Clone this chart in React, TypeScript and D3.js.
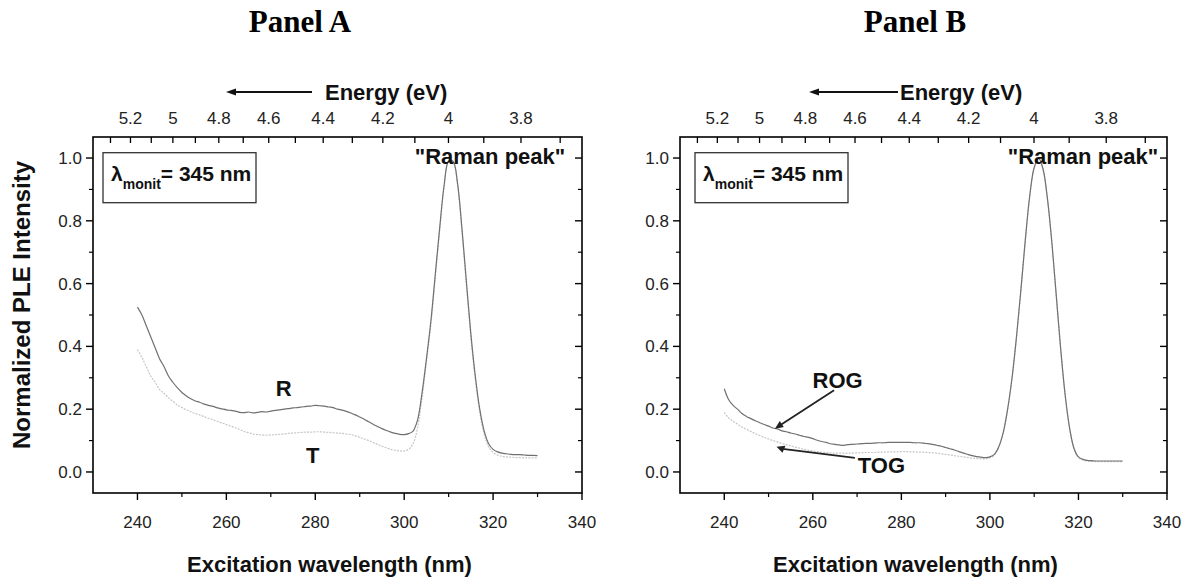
import React from 'react';
import * as d3 from 'd3';

// ---------- Data ----------
const wavelength = [
  240, 241, 242, 243, 244, 245, 246, 247, 248, 249, 250, 251, 252, 253, 254, 255, 256, 257, 258, 259,
  260, 261, 262, 263, 264, 265, 266, 267, 268, 269, 270, 271, 272, 273, 274, 275, 276, 277, 278, 279,
  280, 281, 282, 283, 284, 285, 286, 287, 288, 289, 290, 291, 292, 293, 294, 295, 296, 297, 298, 299,
  300, 301, 302, 303, 304, 305, 306, 307, 308, 309, 310, 311, 312, 313, 314, 315, 316, 317, 318, 319,
  320, 321, 322, 323, 324, 325, 326, 327, 328, 329, 330,
];

const seriesR = [
  0.525, 0.5, 0.465, 0.43, 0.395, 0.36, 0.335, 0.305, 0.285, 0.268, 0.253, 0.242, 0.233, 0.226, 0.222, 0.216, 0.212, 0.209, 0.204, 0.201,
  0.198, 0.196, 0.194, 0.19, 0.189, 0.191, 0.188, 0.19, 0.192, 0.191, 0.194, 0.196, 0.198, 0.2, 0.202, 0.204, 0.205, 0.207, 0.209, 0.21,
  0.212, 0.211, 0.21, 0.207, 0.205, 0.2, 0.197, 0.193, 0.188, 0.182, 0.175, 0.168, 0.16, 0.152, 0.145, 0.138, 0.132, 0.127, 0.123, 0.12,
  0.119, 0.122, 0.13, 0.165, 0.25, 0.36, 0.48, 0.63, 0.78, 0.915, 0.99, 0.99, 0.92, 0.775, 0.605, 0.44, 0.305, 0.2, 0.13, 0.09,
  0.072, 0.064, 0.06, 0.058, 0.056, 0.055, 0.055, 0.054, 0.053, 0.053, 0.052,
];

const seriesT = [
  0.39, 0.365, 0.335, 0.305, 0.285, 0.262, 0.25, 0.236, 0.225, 0.213, 0.205, 0.198, 0.192, 0.186, 0.182, 0.176, 0.171, 0.166, 0.161, 0.156,
  0.151, 0.146, 0.141, 0.135, 0.129, 0.125, 0.121, 0.119, 0.118, 0.117, 0.118, 0.119, 0.12, 0.121, 0.123, 0.124, 0.125, 0.126, 0.127, 0.127,
  0.128, 0.128, 0.127, 0.126, 0.125, 0.124, 0.123, 0.121, 0.119, 0.115, 0.11, 0.105, 0.1, 0.094, 0.088, 0.082, 0.077, 0.072, 0.069, 0.067,
  0.067, 0.072, 0.09, 0.14, 0.235, 0.35, 0.47, 0.62, 0.77, 0.91, 0.99, 0.985, 0.915, 0.765, 0.595, 0.43, 0.295, 0.19, 0.12, 0.08,
  0.062, 0.054, 0.05, 0.048, 0.047, 0.046, 0.046, 0.045, 0.045, 0.045, 0.045,
];

const seriesROG = [
  0.265, 0.23, 0.212, 0.2, 0.186, 0.177, 0.17, 0.163, 0.157, 0.151, 0.146, 0.14, 0.137, 0.131, 0.128, 0.124, 0.121, 0.117, 0.113, 0.11,
  0.106, 0.101, 0.097, 0.094, 0.09, 0.088, 0.086, 0.085, 0.087, 0.088, 0.089, 0.09, 0.091, 0.091, 0.092, 0.093, 0.093, 0.094, 0.094, 0.094,
  0.094, 0.094, 0.094, 0.093, 0.093, 0.092, 0.09, 0.088, 0.085, 0.082, 0.078, 0.074, 0.07, 0.065, 0.06, 0.056, 0.052, 0.049, 0.047, 0.046,
  0.048, 0.056, 0.08, 0.125, 0.2, 0.3, 0.43, 0.58, 0.74, 0.88, 0.97, 1.0, 0.965, 0.87, 0.73, 0.56, 0.39, 0.245, 0.14, 0.075,
  0.048, 0.04, 0.037, 0.036, 0.035, 0.035, 0.035, 0.035, 0.035, 0.035, 0.035,
];

const seriesTOG = [
  0.19, 0.172, 0.162, 0.152, 0.143, 0.136, 0.129, 0.122, 0.116, 0.11, 0.105, 0.1, 0.096, 0.091, 0.087, 0.083, 0.079, 0.076, 0.072, 0.069,
  0.067, 0.065, 0.063, 0.062, 0.061, 0.06, 0.06, 0.06, 0.06, 0.06, 0.061, 0.061, 0.062, 0.062, 0.062, 0.063, 0.063, 0.064, 0.064, 0.064,
  0.065, 0.065, 0.064, 0.064, 0.063, 0.063, 0.062, 0.061, 0.06, 0.058, 0.056, 0.054, 0.052, 0.05, 0.048, 0.046, 0.044, 0.043, 0.042, 0.042,
  0.045, 0.054, 0.078, 0.122, 0.198, 0.298, 0.428, 0.578, 0.738, 0.878, 0.968, 0.998, 0.963, 0.868, 0.728, 0.558, 0.388, 0.243, 0.138, 0.073,
  0.046, 0.038, 0.035, 0.034, 0.033, 0.033, 0.033, 0.033, 0.033, 0.033, 0.033,
];

const xTicks = [240, 260, 280, 300, 320, 340];
const xMinorTicks = [250, 270, 290, 310, 330];
const yTicks = [0.0, 0.2, 0.4, 0.6, 0.8, 1.0];
const yMinorTicks = [0.1, 0.3, 0.5, 0.7, 0.9];
const energyLabels = [5.2, 5.0, 4.8, 4.6, 4.4, 4.2, 4.0, 3.8];
const energyTicks = [5.3, 5.2, 5.1, 5.0, 4.9, 4.8, 4.7, 4.6, 4.5, 4.4, 4.3, 4.2, 4.1, 4.0, 3.9, 3.8, 3.7];

const HC = 1239.84;
const FONT = 'Liberation Sans, Arial, Helvetica, sans-serif';

type PanelCfg = {
  title: string;
  titleX: number;
  left: number;
  right: number;
  top: number;
  bottom: number;
  dark: number[];
  light: number[];
  withYLabel: boolean;
  energyArrowFrom: number;
  energyArrowTo: number;
  energyTextX: number;
  boxX: number;
  boxW: number;
  ramanX: number;
  panelB: boolean;
};

function Panel({ cfg }: { cfg: PanelCfg }) {
  const x = d3.scaleLinear().domain([230, 340]).range([cfg.left, cfg.right]);
  const y = d3.scaleLinear().domain([-0.067, 1.067]).range([cfg.bottom, cfg.top]);
  const line = d3
    .line<number>()
    .x((_, i) => x(wavelength[i]))
    .y((d) => y(d))
    .curve(d3.curveCatmullRom);
  const axisW = 1.6;
  const tk = 7;
  const tkm = 4;
  const midX = (cfg.left + cfg.right) / 2;

  return (
    <g>
      <text x={cfg.titleX} y={32} textAnchor="middle" fontFamily="Liberation Serif, Times New Roman, serif" fontWeight="bold" fontSize={31}>
        {cfg.title}
      </text>

      {/* curves */}
      <path d={line(cfg.light) || ''} fill="none" stroke="#c6c6c6" strokeWidth={1.2} strokeDasharray="2 1.2" />
      <path d={line(cfg.dark) || ''} fill="none" stroke="#707070" strokeWidth={1.2} />

      {/* frame */}
      <rect x={cfg.left} y={cfg.top} width={cfg.right - cfg.left} height={cfg.bottom - cfg.top} fill="none" stroke="#000" strokeWidth={axisW} />

      {/* bottom axis */}
      {xTicks.map((t) => (
        <g key={'xb' + t}>
          <line x1={x(t)} x2={x(t)} y1={cfg.bottom} y2={cfg.bottom + tk} stroke="#000" strokeWidth={1.4} />
          <text x={x(t)} y={cfg.bottom + 35} textAnchor="middle" fontFamily={FONT} fontSize={17} fill="#222">
            {t}
          </text>
        </g>
      ))}
      {xMinorTicks.map((t) => (
        <line key={'xm' + t} x1={x(t)} x2={x(t)} y1={cfg.bottom} y2={cfg.bottom + tkm} stroke="#000" strokeWidth={1.2} />
      ))}
      <text x={midX - 8} y={cfg.bottom + 79} textAnchor="middle" fontFamily={FONT} fontWeight="bold" fontSize={22} fill="#111">
        Excitation wavelength (nm)
      </text>

      {/* left axis */}
      {yTicks.map((t) => (
        <g key={'yl' + t}>
          <line x1={cfg.left - tk} x2={cfg.left} y1={y(t)} y2={y(t)} stroke="#000" strokeWidth={1.4} />
          <text x={cfg.left - 11} y={y(t) + 6} textAnchor="end" fontFamily={FONT} fontSize={17} fill="#222">
            {t.toFixed(1)}
          </text>
          <line x1={cfg.right - tk} x2={cfg.right} y1={y(t)} y2={y(t)} stroke="#000" strokeWidth={1.4} />
        </g>
      ))}
      {yMinorTicks.map((t) => (
        <g key={'ym' + t}>
          <line x1={cfg.left - tkm} x2={cfg.left} y1={y(t)} y2={y(t)} stroke="#000" strokeWidth={1.2} />
          <line x1={cfg.right - tkm} x2={cfg.right} y1={y(t)} y2={y(t)} stroke="#000" strokeWidth={1.2} />
        </g>
      ))}
      {cfg.withYLabel && (
        <text
          transform={`translate(${cfg.left - 63},${(cfg.top + cfg.bottom) / 2 - 10}) rotate(-90)`}
          textAnchor="middle"
          fontFamily={FONT}
          fontWeight="bold"
          fontSize={24}
          fill="#111"
        >
          Normalized PLE Intensity
        </text>
      )}

      {/* top energy axis */}
      {energyTicks.map((e) => (
        <line key={'et' + e} x1={x(HC / e)} x2={x(HC / e)} y1={cfg.top} y2={cfg.top + 6} stroke="#000" strokeWidth={1.3} />
      ))}
      {energyLabels.map((e) => (
        <text key={'el' + e} x={x(HC / e)} y={cfg.top - 13} textAnchor="middle" fontFamily={FONT} fontSize={17} fill="#222">
          {String(e)}
        </text>
      ))}
      <line x1={cfg.energyArrowFrom} x2={cfg.energyArrowTo + 8} y1={92} y2={92} stroke="#111" strokeWidth={2} />
      <path d={`M${cfg.energyArrowTo},92 L${cfg.energyArrowTo + 10},88.5 L${cfg.energyArrowTo + 10},95.5 Z`} fill="#111" />
      <text x={cfg.energyTextX} y={100} fontFamily={FONT} fontWeight="bold" fontSize={22} fill="#111">
        Energy (eV)
      </text>

      {/* monitor box */}
      <rect x={cfg.boxX} y={y(1.017)} width={cfg.boxW} height={50} fill="#fff" stroke="#333" strokeWidth={1.3} />
      <text x={cfg.boxX + 8} y={y(1.017) + 28} fontFamily={FONT} fontWeight="bold" fontSize={21} fill="#111">
        λ
        <tspan fontSize={14} dy={8}>monit</tspan>
        <tspan dy={-8}>= 345 nm</tspan>
      </text>

      {/* Raman label */}
      <text x={cfg.ramanX} y={y(1.0) + 6} textAnchor="middle" fontFamily={FONT} fontWeight="bold" fontSize={22} fill="#111">
        "Raman peak"
      </text>

      {/* series labels */}
      {!cfg.panelB && (
        <g fontFamily={FONT} fontWeight="bold" fontSize={22} fill="#111">
          <text x={x(272.9)} y={y(0.267) + 8} textAnchor="middle">R</text>
          <text x={x(279.4)} y={y(0.054) + 8} textAnchor="middle">T</text>
        </g>
      )}
      {cfg.panelB && (
        <g>
          <g fontFamily={FONT} fontWeight="bold" fontSize={22} fill="#111">
            <text x={x(265.6)} y={y(0.293) + 8} textAnchor="middle">ROG</text>
            <text x={x(275.5)} y={y(0.022) + 8} textAnchor="middle">TOG</text>
          </g>
          <line x1={x(264.8)} y1={y(0.26)} x2={x(251.4) + 5} y2={y(0.137) - 3.5} stroke="#222" strokeWidth={1.8} />
          <path
            d={`M${x(251.4)},${y(0.137)} L${x(251.4) + 5},${y(0.137) - 8} L${x(251.4) + 9},${y(0.137) - 2} Z`}
            fill="#222"
          />
          <line x1={x(269.5)} y1={y(0.045)} x2={x(251.8) + 6} y2={y(0.08) + 2} stroke="#222" strokeWidth={1.8} />
          <path
            d={`M${x(251.8)},${y(0.08)} L${x(251.8) + 9},${y(0.08) - 1} L${x(251.8) + 6},${y(0.08) + 6} Z`}
            fill="#222"
          />
        </g>
      )}
    </g>
  );
}

const panelA: PanelCfg = {
  title: 'Panel A',
  titleX: 300,
  left: 93,
  right: 582,
  top: 137,
  bottom: 493,
  dark: seriesR,
  light: seriesT,
  withYLabel: true,
  energyArrowFrom: 312,
  energyArrowTo: 226,
  energyTextX: 325,
  boxX: 103,
  boxW: 153,
  ramanX: 490,
  panelB: false,
};

const panelB: PanelCfg = {
  title: 'Panel B',
  titleX: 915,
  left: 680,
  right: 1167,
  top: 137,
  bottom: 493,
  dark: seriesROG,
  light: seriesTOG,
  withYLabel: false,
  energyArrowFrom: 898,
  energyArrowTo: 809,
  energyTextX: 900,
  boxX: 695,
  boxW: 153,
  ramanX: 1083,
  panelB: true,
};

export default function App() {
  return (
    <svg width={1200} height={579} viewBox="0 0 1200 579" style={{ position: 'absolute', left: 0, top: 0, background: '#fff' }}>
      <rect width={1200} height={579} fill="#fff" />
      <Panel cfg={panelA} />
      <Panel cfg={panelB} />
    </svg>
  );
}
